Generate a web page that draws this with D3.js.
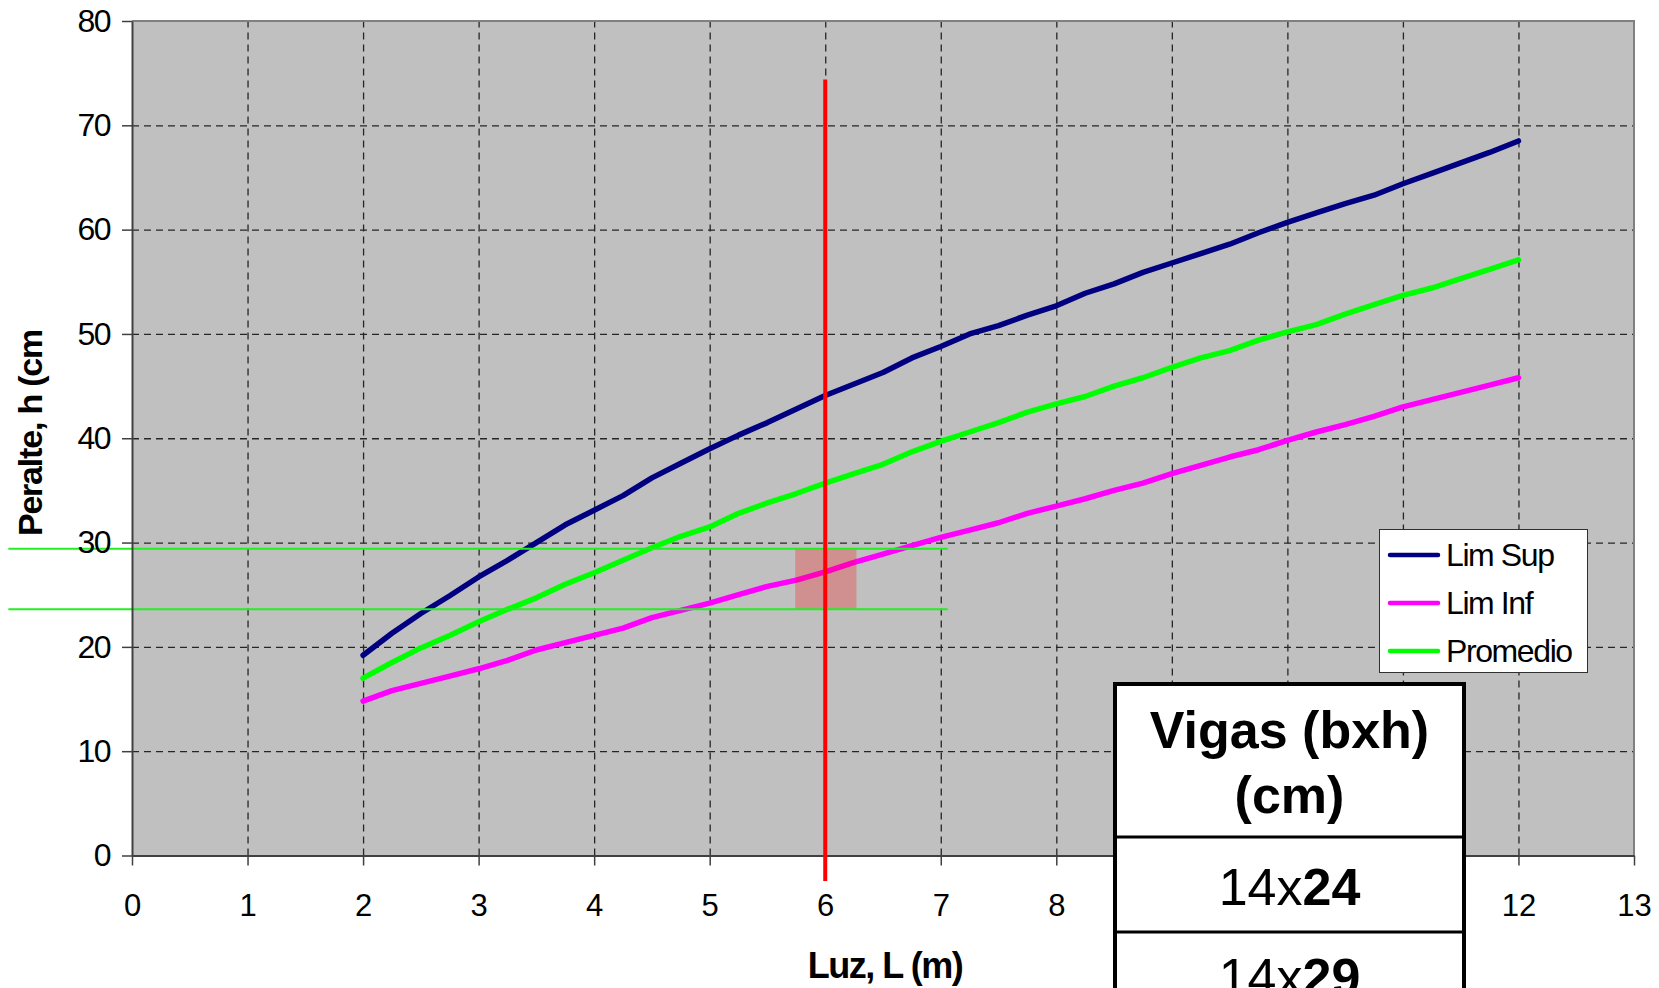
<!DOCTYPE html>
<html>
<head>
<meta charset="utf-8">
<script src="https://cdn.jsdelivr.net/npm/d3@7"></script>
<style>
  html, body { margin: 0; padding: 0; background: #fff; }
  svg { display: block; font-family: "Liberation Sans", Arial, sans-serif; }
</style>
</head>
<body>
<svg id="chart" width="1659" height="988"></svg>
<script>
// ---- data ----
const spans = [2,2.25,2.5,2.75,3,3.25,3.5,3.75,4,4.25,4.5,4.75,5,5.25,5.5,5.75,6,6.25,6.5,6.75,7,7.25,7.5,7.75,8,8.25,8.5,8.75,9,9.25,9.5,9.75,10,10.25,10.5,10.75,11,11.25,11.5,11.75,12];
const limSup = [19.2,21.3,23.2,24.9,26.7,28.3,30.0,31.7,33.1,34.5,36.2,37.6,39.0,40.3,41.5,42.8,44.1,45.2,46.3,47.7,48.8,50.0,50.8,51.8,52.7,53.9,54.8,55.9,56.8,57.7,58.6,59.7,60.7,61.6,62.5,63.3,64.4,65.4,66.4,67.4,68.5];
const limInf = [14.8,15.8,16.5,17.2,17.9,18.7,19.7,20.4,21.1,21.8,22.8,23.5,24.2,25.0,25.8,26.4,27.2,28.1,28.9,29.7,30.5,31.2,31.9,32.8,33.5,34.2,35.0,35.7,36.6,37.4,38.2,38.9,39.8,40.6,41.3,42.1,43.0,43.7,44.4,45.1,45.8];
const promedio = [17.0,18.5,19.9,21.1,22.4,23.6,24.7,26.0,27.1,28.3,29.5,30.6,31.5,32.8,33.8,34.7,35.7,36.6,37.5,38.7,39.7,40.6,41.5,42.5,43.3,44.0,45.0,45.8,46.8,47.7,48.4,49.4,50.2,50.9,51.9,52.8,53.7,54.4,55.3,56.2,57.1];
const seriesNames = ["Lim Sup", "Lim Inf", "Promedio"];
const xTicks = [0,1,2,3,4,5,6,7,8,9,10,11,12,13];
const yTicks = [0,10,20,30,40,50,60,70,80];
// design guides (data units)
const chosenSpan = 6;
const spanLineRange = [-2.45, 74.4];
const guideHeights = [29.4, 23.6];
const guideSpanRange = [-1.07, 7.06];
const boxSpanRange = [5.74, 6.27];
// table
const tableHeader = ["Vigas (bxh)", "(cm)"];
const tableRows = [["14x", "24"], ["14x", "29"]];

// ---- layout ----
const svg = d3.select("#chart");
const x = d3.scaleLinear().domain([0, 13]).range([132, 1634]);
const y = d3.scaleLinear().domain([0, 80]).range([855.5, 21]);
const colors = { "Lim Sup": "#000080", "Lim Inf": "#ff00ff", "Promedio": "#00ff00" };
const seriesData = { "Lim Sup": limSup, "Lim Inf": limInf, "Promedio": promedio };

// plot background
svg.append("rect")
  .attr("x", x(0)).attr("y", y(80))
  .attr("width", x(13) - x(0)).attr("height", y(0) - y(80))
  .attr("fill", "#c0c0c0");

// gridlines
const gridX = svg.append("g").attr("transform", `translate(0,${y(0)})`)
  .call(d3.axisBottom(x).tickValues(xTicks.filter(d => d > 0 && d < 13)).tickSize(-(y(0) - y(80))).tickFormat(""));
gridX.select(".domain").remove();
gridX.selectAll("line").attr("stroke", "#262626").attr("stroke-width", 1.3).attr("stroke-dasharray", "7,5");
const gridY = svg.append("g").attr("transform", `translate(${x(0)},0)`)
  .call(d3.axisLeft(y).tickValues(yTicks.filter(d => d > 0 && d < 80)).tickSize(-(x(13) - x(0))).tickFormat(""));
gridY.select(".domain").remove();
gridY.selectAll("line").attr("stroke", "#262626").attr("stroke-width", 1.3).attr("stroke-dasharray", "7,5");

// top / right frame
svg.append("path")
  .attr("d", `M${x(0)},${y(80)}H${x(13)}V${y(0)}`)
  .attr("fill", "none").attr("stroke", "#808080").attr("stroke-width", 2);

// series lines
const line = d3.line().x((d, i) => x(spans[i])).y(d => y(d));
seriesNames.forEach(name => {
  svg.append("path")
    .datum(seriesData[name])
    .attr("d", line)
    .attr("fill", "none")
    .attr("stroke", colors[name])
    .attr("stroke-width", 5.5)
    .attr("stroke-linejoin", "round")
    .attr("stroke-linecap", "round");
});

// highlighted box
svg.append("rect")
  .attr("x", x(boxSpanRange[0])).attr("y", y(guideHeights[0]))
  .attr("width", x(boxSpanRange[1]) - x(boxSpanRange[0]))
  .attr("height", y(guideHeights[1]) - y(guideHeights[0]))
  .attr("fill", "#ff0000").attr("fill-opacity", 0.25);

// horizontal guide lines
guideHeights.forEach(h => {
  svg.append("line")
    .attr("x1", x(guideSpanRange[0])).attr("x2", x(guideSpanRange[1]))
    .attr("y1", y(h)).attr("y2", y(h))
    .attr("stroke", "#22ee22").attr("stroke-width", 2);
});

// axes
const yAxis = svg.append("g").attr("transform", `translate(${x(0)},0)`)
  .call(d3.axisLeft(y).tickValues(yTicks).tickSize(10).tickSizeOuter(0).tickPadding(12));
yAxis.select(".domain").attr("stroke", "#404040").attr("stroke-width", 2);
yAxis.selectAll(".tick line").attr("stroke", "#404040").attr("stroke-width", 1.5);
yAxis.selectAll("text").attr("font-size", 32).attr("fill", "#000")
  .attr("font-family", "Liberation Sans, Arial, sans-serif").attr("letter-spacing", -1.5);

const xAxis = svg.append("g").attr("transform", `translate(0,${y(0)})`)
  .call(d3.axisBottom(x).tickValues(xTicks).tickSize(10).tickSizeOuter(0).tickPadding(0));
xAxis.select(".domain").attr("stroke", "#404040").attr("stroke-width", 2);
xAxis.selectAll(".tick line").attr("stroke", "#404040").attr("stroke-width", 1.5);
xAxis.selectAll("text").attr("font-size", 31).attr("fill", "#000")
  .attr("font-family", "Liberation Sans, Arial, sans-serif")
  .attr("y", 49.5).attr("dy", "0.35em");

// red vertical line at chosen span
svg.append("line")
  .attr("x1", x(chosenSpan)).attr("x2", x(chosenSpan))
  .attr("y1", y(spanLineRange[1])).attr("y2", y(spanLineRange[0]))
  .attr("stroke", "#ff0000").attr("stroke-width", 4);

// axis titles
svg.append("text")
  .attr("x", 885).attr("y", 978)
  .attr("text-anchor", "middle")
  .attr("font-size", 36).attr("font-weight", "bold").attr("letter-spacing", -1.5)
  .text("Luz, L (m)");
svg.append("text")
  .attr("transform", "translate(42,433) rotate(-90)")
  .attr("text-anchor", "middle")
  .attr("font-size", 34).attr("font-weight", "bold").attr("letter-spacing", -1.2)
  .text("Peralte, h (cm");

// legend
const legend = svg.append("g");
legend.append("rect")
  .attr("x", 1379.5).attr("y", 529.5).attr("width", 208).attr("height", 143)
  .attr("fill", "#fff").attr("stroke", "#303030").attr("stroke-width", 1);
seriesNames.forEach((name, i) => {
  const cy = 555 + i * 48;
  legend.append("line")
    .attr("x1", 1390).attr("x2", 1438).attr("y1", cy).attr("y2", cy)
    .attr("stroke", colors[name]).attr("stroke-width", 4.5).attr("stroke-linecap", "round");
  legend.append("text")
    .attr("x", 1446).attr("y", cy).attr("dy", "0.35em")
    .attr("font-size", 32).attr("letter-spacing", -1.4)
    .text(name);
});

// table
const table = svg.append("g");
table.append("rect")
  .attr("x", 1115).attr("y", 684).attr("width", 349).attr("height", 330)
  .attr("fill", "#fff").attr("stroke", "#000").attr("stroke-width", 4);
[837, 932].forEach(yy => {
  table.append("line").attr("x1", 1115).attr("x2", 1464).attr("y1", yy).attr("y2", yy)
    .attr("stroke", "#000").attr("stroke-width", 3);
});
tableHeader.forEach((t, i) => {
  table.append("text")
    .attr("x", 1289.5).attr("y", [748, 813][i])
    .attr("text-anchor", "middle")
    .attr("font-size", 52).attr("font-weight", "bold")
    .text(t);
});
tableRows.forEach((r, i) => {
  const t = table.append("text")
    .attr("x", 1289.5).attr("y", [905, 995][i])
    .attr("text-anchor", "middle")
    .attr("font-size", 52);
  t.append("tspan").text(r[0]);
  t.append("tspan").attr("font-weight", "bold").text(r[1]);
});
</script>
</body>
</html>
